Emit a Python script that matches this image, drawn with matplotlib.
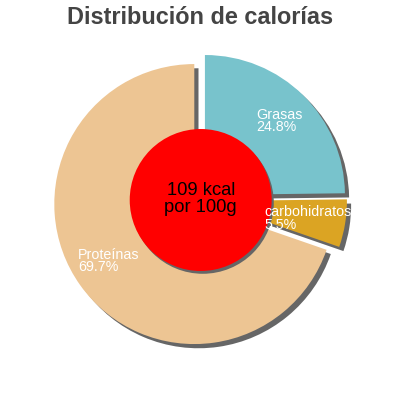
import matplotlib.pyplot as plt
from matplotlib.patches import Wedge, Circle

plt.rcParams['font.family'] = ['Liberation Sans', 'DejaVu Sans']

# Data
categories = ['Grasas', 'carbohidratos', 'Proteínas']
values = [24.8, 5.5, 69.7]
colors = ['#78c3cc', '#dba423', '#edc593']
center_text = '109 kcal\npor 100g'
title = 'Distribución de calorías'

# label anchor points (data units, radius 1 = pie radius)
label_pos = [(0.40, 0.564), (0.457, -0.129), (-0.871, -0.436)]

R_PX = 140.0  # pie radius in pixels
shadow_color = '#666666'

fig = plt.figure(figsize=(4, 4), dpi=100)
ax = fig.add_axes([0, 0, 1, 1])

wedges, _ = ax.pie(values, colors=colors, startangle=90, counterclock=False,
                   explode=[0.05] * len(values), radius=1, center=(0, 0))
for w in wedges:
    w.set_zorder(2)
    sh = Wedge((w.center[0] + 0.03, w.center[1] - 0.03), w.r, w.theta1, w.theta2,
               color=shadow_color, zorder=1, lw=0)
    ax.add_patch(sh)

# center disc
ax.add_patch(Circle((0.02, -0.02), 0.507, color=shadow_color, zorder=2.5, lw=0))
ax.add_patch(Circle((0.005, 0.0), 0.507, color='#ff0000', zorder=3, lw=0))
ax.text(0.005, 0.005, center_text, ha='center', va='center', fontsize=13.2,
        color='black', linespacing=1.0, zorder=5)

for name, v, (x, y) in zip(categories, values, label_pos):
    ax.text(x, y, f'{name}\n{v:.1f}%', ha='left', va='center', fontsize=10.3,
            color='white', linespacing=0.9, zorder=5)

lim = 200 / R_PX
ax.set_xlim(-lim, lim)
ax.set_ylim(-lim, lim)
ax.set_aspect('equal')
ax.axis('off')

fig.text(0.5, 1 - 17 / 400, title, ha='center', va='center', fontsize=16.9,
         fontweight='bold', color='#444444')

fig.savefig('out.png', dpi=100)
